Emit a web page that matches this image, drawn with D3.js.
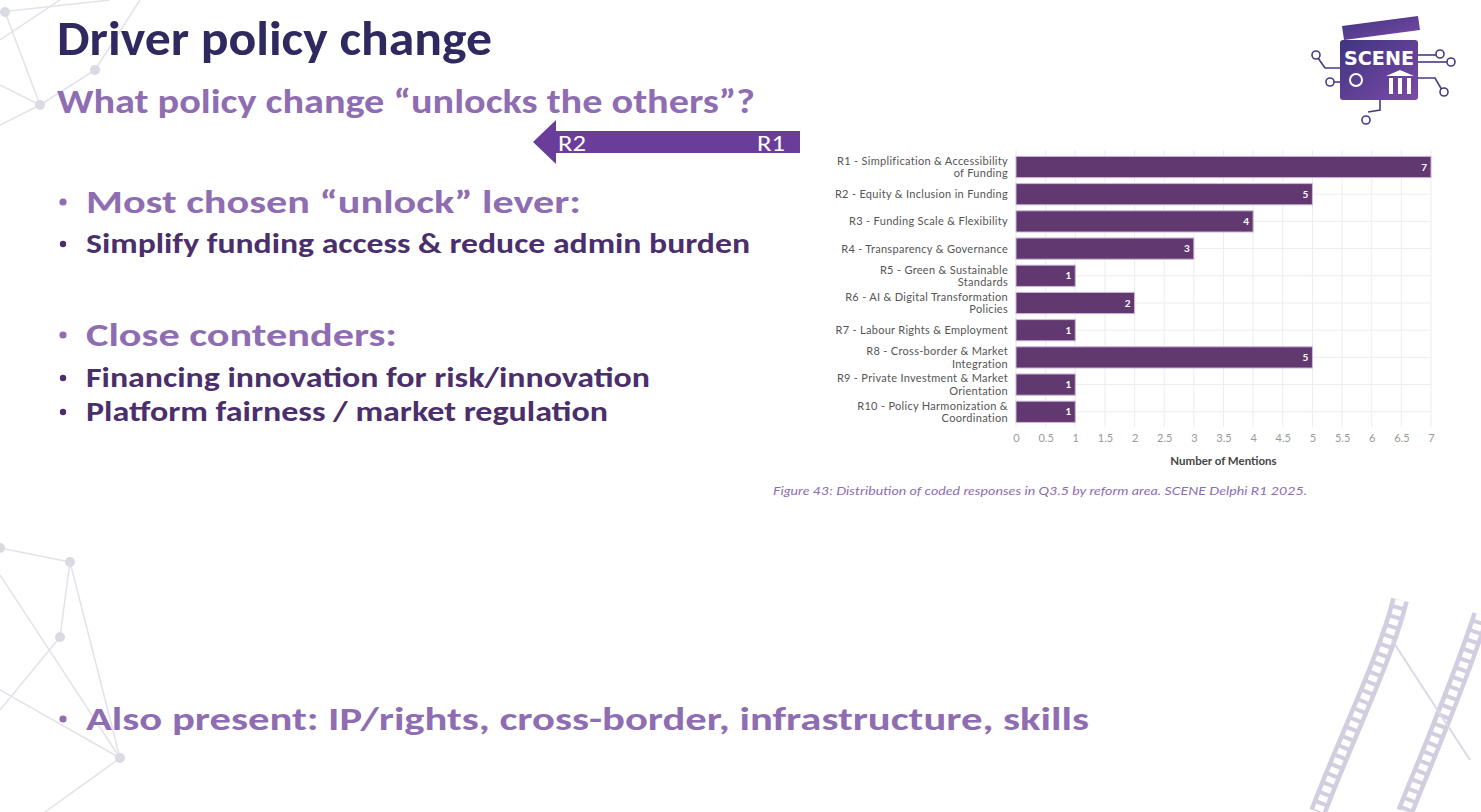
<!DOCTYPE html>
<html>
<head>
<meta charset="utf-8">
<script src="https://cdn.jsdelivr.net/npm/d3@7"></script>
<style>
  body { margin: 0; background: #fff; }
  svg { display: block; }
  .slide { font-family: Carlito, Calibri, Lato, "Open Sans", sans-serif; font-weight: 700; }
  .chart text { font-family: Lato, "Noto Sans", sans-serif; }
</style>
</head>
<body>
<svg id="slide" width="1481" height="812"></svg>
<script>
// chart data
const categories = [
    "R1 - Simplification & Accessibility\nof Funding",
    "R2 - Equity & Inclusion in Funding",
    "R3 - Funding Scale & Flexibility",
    "R4 - Transparency & Governance",
    "R5 - Green & Sustainable\nStandards",
    "R6 - AI & Digital Transformation\nPolicies",
    "R7 - Labour Rights & Employment",
    "R8 - Cross-border & Market\nIntegration",
    "R9 - Private Investment & Market\nOrientation",
    "R10 - Policy Harmonization &\nCoordination"
];
const mentions = [7, 5, 4, 3, 1, 2, 1, 5, 1, 1];
const tickValues = [0, 0.5, 1, 1.5, 2, 2.5, 3, 3.5, 4, 4.5, 5, 5.5, 6, 6.5, 7];
const axisTitle = "Number of Mentions";
const caption = "Figure 43: Distribution of coded responses in Q3.5 by reform area. SCENE Delphi R1 2025.";

// slide texts
const slideTitle = "Driver policy change";
const slideSubtitle = "What policy change \u201Cunlocks the others\u201D?";
const bullets = [
    {text: "Most chosen \u201Cunlock\u201D lever:", level: 1, y: 213, size: 33, w: 495},
    {text: "Simplify funding access & reduce admin burden", level: 2, y: 253, size: 28, w: 664},
    {text: "Close contenders:", level: 1, y: 346, size: 33, w: 311},
    {text: "Financing innovation for risk/innovation", level: 2, y: 387, size: 28, w: 564},
    {text: "Platform fairness / market regulation", level: 2, y: 421, size: 28, w: 522},
    {text: "Also present: IP/rights, cross-border, infrastructure, skills", level: 1, y: 730, size: 33, w: 1003}
];
const arrowLabels = ["R2", "R1"];

const svg = d3.select("#slide");

drawDecor();
drawText();
drawChart();
drawLogo();

function drawDecor () {

    const g = svg.append("g").attr("class", "decor").style("stroke", "#e2e2ea").style("fill", "none");

    const netLines = [
        [[0, 40], [60, 0]], [[0, 12], [110, 0]], [[5, 12], [40, 105]], [[0, 85], [40, 105]],
        [[40, 105], [95, 70]], [[95, 70], [140, 0]], [[40, 105], [0, 125]],
        [[0, 548], [70, 562]], [[70, 562], [60, 637]], [[70, 562], [120, 758]],
        [[0, 575], [120, 758]], [[60, 637], [0, 710]], [[0, 690], [120, 758]], [[120, 758], [45, 812]]
    ];
    g.selectAll("line.net").data(netLines).join("line").attr("class", "net")
        .attr("x1", d => d[0][0]).attr("y1", d => d[0][1])
        .attr("x2", d => d[1][0]).attr("y2", d => d[1][1])
        .attr("stroke-width", 1.5);

    const netNodes = [[5, 12], [40, 105], [95, 70], [70, 562], [60, 637], [120, 758], [0, 548]];
    g.selectAll("circle.node").data(netNodes).join("circle").attr("class", "node")
        .attr("cx", d => d[0]).attr("cy", d => d[1]).attr("r", 5)
        .style("fill", "#dadae2").style("stroke", "none");

    // film strips bottom right
    const strips = [
        "M1400,600 C1385,660 1345,740 1318,812",
        "M1481,615 C1460,680 1430,750 1405,812"
    ];
    g.selectAll("path.strip").data(strips).join("path").attr("class", "strip")
        .attr("d", d => d).style("stroke", "#d2cee0").attr("stroke-width", 18);
    g.selectAll("path.holes").data(strips).join("path").attr("class", "holes")
        .attr("d", d => d).style("stroke", "#fff").attr("stroke-width", 9)
        .attr("stroke-dasharray", "6 4");
    g.append("path").attr("d", "M1392,640 L1470,760").style("stroke", "#dcd8e6").attr("stroke-width", 2);
}

function drawText () {

    const g = svg.append("g").attr("class", "slide");

    g.append("text").text(slideTitle)
        .attr("x", 57).attr("y", 55)
        .attr("textLength", 435).attr("lengthAdjust", "spacingAndGlyphs")
        .style("font-size", "48px").style("fill", "#2e2a5f");

    g.append("text").text(slideSubtitle)
        .attr("x", 57).attr("y", 113)
        .attr("textLength", 698).attr("lengthAdjust", "spacingAndGlyphs")
        .style("font-size", "34px").style("fill", "#8e6db2");

    const rows = g.selectAll("g.bullet").data(bullets).join("g").attr("class", "bullet");

    rows.append("circle")
        .attr("cx", 63).attr("cy", d => d.y - (d.level == 1 ? 11 : 9))
        .attr("r", d => d.level == 1 ? 3.6 : 3.2)
        .style("fill", d => d.level == 1 ? "#8e6db2" : "#4a2f6c");

    rows.append("text").text(d => d.text)
        .attr("x", 86).attr("y", d => d.y)
        .attr("textLength", d => d.w).attr("lengthAdjust", "spacingAndGlyphs")
        .style("font-size", d => d.size + "px")
        .style("fill", d => d.level == 1 ? "#8e6db2" : "#4a2f6c");

    // left pointing arrow R1 -> R2
    const arrow = g.append("g").attr("class", "arrow");
    arrow.append("path")
        .attr("d", "M800,131 L556,131 L556,120 L533,142 L556,164 L556,153 L800,153 Z")
        .style("fill", "#6b3d9b");
    arrow.selectAll("text").data(arrowLabels).join("text")
        .text(d => d)
        .attr("x", (d, i) => i == 0 ? 558 : 757).attr("y", 151)
        .attr("textLength", 28).attr("lengthAdjust", "spacingAndGlyphs")
        .style("font-size", "22px").style("font-weight", 400).style("fill", "#fff");
}

function drawChart () {

    const x = d3.scaleLinear().domain([0, 7]).range([1016, 1431]);
    const y = d3.scaleBand().domain(categories).range([153.4, 425.4]).paddingInner(0.22).paddingOuter(0.11);

    const g = svg.append("g").attr("class", "chart");

    // grid
    g.append("g").selectAll("line.vgrid").data(tickValues).join("line").attr("class", "vgrid")
        .attr("x1", d => x(d)).attr("x2", d => x(d))
        .attr("y1", 150).attr("y2", 427)
        .style("stroke", "#ececf0").style("stroke-width", 1);

    g.append("g").selectAll("line.hgrid").data(categories).join("line").attr("class", "hgrid")
        .attr("x1", x(0)).attr("x2", x(7))
        .attr("y1", d => y(d) + y.bandwidth() / 2).attr("y2", d => y(d) + y.bandwidth() / 2)
        .style("stroke", "#ececf0").style("stroke-width", 1);

    // bars
    const bars = g.append("g").selectAll("g.bar").data(categories).join("g").attr("class", "bar");

    bars.append("rect")
        .attr("x", x(0))
        .attr("y", d => y(d))
        .attr("width", (d, i) => x(mentions[i]) - x(0))
        .attr("height", y.bandwidth())
        .style("fill", "#623870")
        .style("stroke", "#cdb6da").style("stroke-width", 1);

    bars.append("text")
        .text((d, i) => mentions[i])
        .attr("x", (d, i) => x(mentions[i]) - 4)
        .attr("y", d => y(d) + y.bandwidth() / 2 + 3.5)
        .attr("text-anchor", "end")
        .style("font-size", "10px").style("font-weight", 700).style("fill", "#fff");

    // category labels, one text per line so the boxes stay apart
    const yAxis = g.append("g").attr("class", "y-axis");
    const labelLines = [];
    categories.forEach(c => {
        const lines = c.split("\n");
        const cy = y(c) + y.bandwidth() / 2;
        lines.forEach((l, i) => labelLines.push({text: l, y: cy + 4 + (i - (lines.length - 1) / 2) * 12.6}));
    });

    yAxis.selectAll("text").data(labelLines).join("text")
        .text(d => d.text)
        .attr("x", 1008).attr("y", d => d.y)
        .attr("text-anchor", "end")
        .style("font-size", "11px").style("letter-spacing", "0.3px").style("fill", "#555");

    // x axis
    const xAxis = g.append("g").attr("transform", "translate(0,426)")
        .call(d3.axisBottom(x).tickValues(tickValues).tickSize(0).tickPadding(8).tickFormat(d3.format("~g")));
    xAxis.select(".domain").remove();
    xAxis.selectAll("text").style("font-size", "11px").style("fill", "#999")
        .style("font-family", "Lato, 'Noto Sans', sans-serif");

    g.append("text").text(axisTitle)
        .attr("x", (x(0) + x(7)) / 2).attr("y", 465)
        .attr("text-anchor", "middle")
        .style("font-size", "11.5px").style("font-weight", 700).style("fill", "#444");

    g.append("text").text(caption)
        .attr("x", 1040).attr("y", 495)
        .attr("text-anchor", "middle")
        .attr("textLength", 534).attr("lengthAdjust", "spacingAndGlyphs")
        .style("font-size", "11px").style("font-style", "italic").style("fill", "#8e6db2");
}

function drawLogo () {

    const g = svg.append("g").attr("class", "logo");

    const grad = svg.append("defs").append("linearGradient").attr("id", "logoGrad")
        .attr("x1", 0).attr("y1", 0).attr("x2", 1).attr("y2", 1);
    grad.append("stop").attr("offset", 0).attr("stop-color", "#3f3480");
    grad.append("stop").attr("offset", 1).attr("stop-color", "#7b4aa8");

    // circuit lines
    const wires = [
        "M1340,68 L1325,68 L1318,58", "M1340,82 L1332,82", "M1418,55 L1438,55",
        "M1418,62 L1448,62", "M1418,78 L1435,78 L1442,90", "M1380,100 L1380,110 L1368,112"
    ];
    g.selectAll("path.wire").data(wires).join("path").attr("class", "wire")
        .attr("d", d => d).style("fill", "none").style("stroke", "#4a3a86").style("stroke-width", 1.6);
    const pins = [[1316, 55], [1330, 82], [1440, 54], [1451, 62], [1444, 92], [1366, 120]];
    g.selectAll("circle.pin").data(pins).join("circle").attr("class", "pin")
        .attr("cx", d => d[0]).attr("cy", d => d[1]).attr("r", 4)
        .style("fill", "#fff").style("stroke", "#4a3a86").style("stroke-width", 1.6);

    // clapper
    g.append("path").attr("d", "M1342,26 L1418,16 L1420,30 L1344,40 Z").style("fill", "url(#logoGrad)");
    g.append("rect").attr("x", 1340).attr("y", 40).attr("width", 78).attr("height", 60).attr("rx", 3)
        .style("fill", "url(#logoGrad)");
    g.append("text").text("SCENE")
        .attr("x", 1379).attr("y", 65).attr("text-anchor", "middle")
        .attr("textLength", 70).attr("lengthAdjust", "spacingAndGlyphs")
        .style("font-family", "'DejaVu Sans Condensed', 'DejaVu Sans', sans-serif")
        .style("font-weight", 700).style("font-size", "20px").style("fill", "#fff");
    g.append("circle").attr("cx", 1356).attr("cy", 80).attr("r", 6).style("fill", "none").style("stroke", "#fff").style("stroke-width", 2);
    g.append("path").attr("d", "M1386,76 L1400,70 L1414,76 Z M1389,78 h4 v16 h-4 Z M1398,78 h4 v16 h-4 Z M1407,78 h4 v16 h-4 Z")
        .style("fill", "#fff");
}
</script>
</body>
</html>
